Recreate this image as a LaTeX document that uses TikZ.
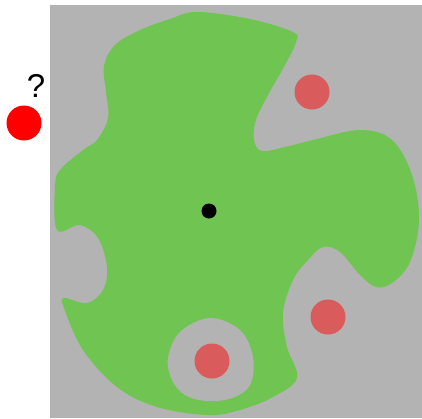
\documentclass[tikz,border=0pt]{standalone}
\usepackage{fontspec}
\setmainfont{Liberation Sans}
\definecolor{bggray}{HTML}{B3B3B3}
\definecolor{blobgreen}{HTML}{70C552}
\definecolor{softred}{HTML}{D95B5B}
\begin{document}
\begin{tikzpicture}[x=1pt,y=-1pt,
  target/.style={circle,fill=softred,minimum size=35pt,inner sep=0pt},
  robot/.style={circle,fill=red,minimum size=35pt,inner sep=0pt}]
\useasboundingbox (0,0) rectangle (422,418);
\fill[bggray] (50,5) rectangle (422,418);
\fill[blobgreen] plot[smooth cycle,tension=0.6] coordinates {
 (197,12) (250,19) (293,32) (296,42) (285,65) (268,95) (256,120) (254,140)
 (262,151) (285,147) (313,140) (360,130) (392,140) (412,175) (419,220)
 (410,262) (392,283) (376,287) (360,275) (340,252) (323,247) (308,260)
 (293,280) (283,313) (287,347) (297,378) (273,397) (240,410) (208,415)
 (157,407) (117,387) (83,350) (64,308) (64,298) (87,303) (103,290)
 (107,267) (98,238) (80,225) (57,230) (55,187) (60,170) (83,150) (97,140)
 (108,118) (106,92) (104,66) (115,45) (140,30) (170,19)};
\fill[bggray] plot[smooth cycle,tension=0.6] coordinates {
 (168,358) (180,332) (210,318) (240,330) (253,357) (250,385) (232,398)
 (207,401) (185,395) (172,380)};
\node[target] (t1) at (312,92) {};
\node[target] (t2) at (328,317) {};
\node[target] (t3) at (212,361) {};
\node[robot] (r) at (24,123) {};
\node[circle,fill=black,minimum size=15pt,inner sep=0pt] (c) at (209,211) {};
\node[font=\fontsize{33}{33}\selectfont,inner sep=0pt] (q) at (36,86) {?};
\end{tikzpicture}
\end{document}
